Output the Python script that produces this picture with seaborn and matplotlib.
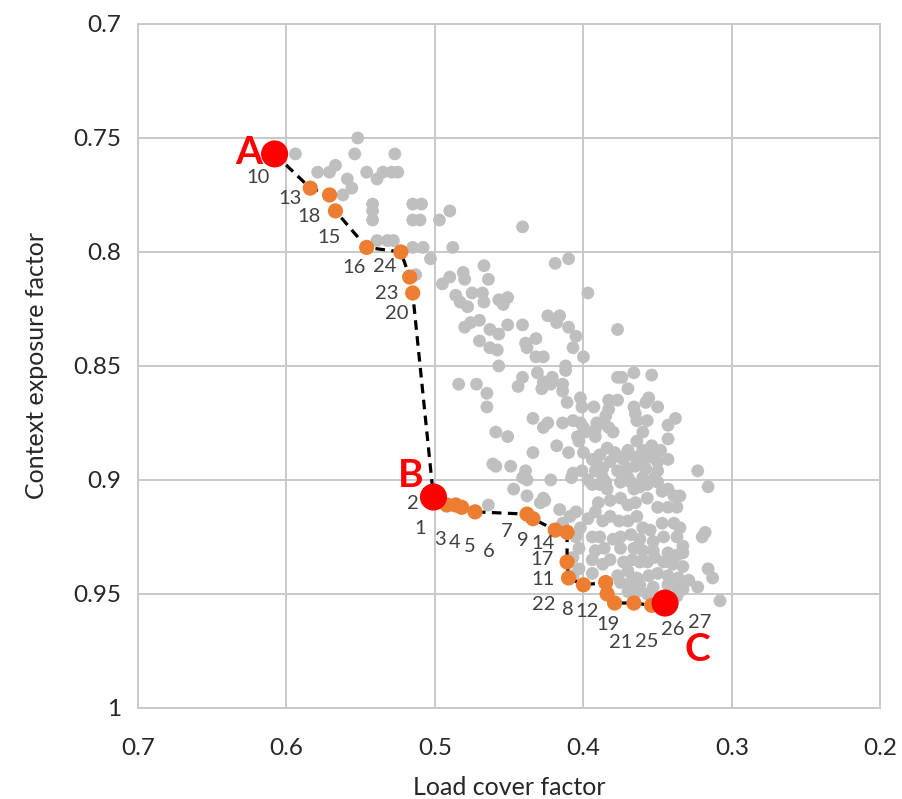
import numpy as np
import pandas as pd
import matplotlib
matplotlib.use("Agg")
import matplotlib.pyplot as plt
import seaborn as sns

# all evaluated solutions (grey cloud)
gray_x = [
    0.594, 0.552, 0.554, 0.527, 0.579, 0.571, 0.567, 0.559, 0.556, 0.562,
    0.546, 0.539, 0.535, 0.529, 0.525, 0.542, 0.542, 0.542, 0.515, 0.509,
    0.515, 0.510, 0.497, 0.490, 0.441, 0.539, 0.532, 0.528, 0.515, 0.508,
    0.488, 0.503, 0.513, 0.495, 0.490, 0.481, 0.480, 0.467, 0.464, 0.419,
    0.410, 0.397, 0.486, 0.483, 0.478, 0.475, 0.468, 0.467, 0.457, 0.454,
    0.451, 0.424, 0.416, 0.418, 0.410, 0.405, 0.377, 0.480, 0.476, 0.470,
    0.463, 0.457, 0.451, 0.441, 0.470, 0.463, 0.458, 0.439, 0.438, 0.432,
    0.407, 0.400, 0.432, 0.427, 0.457, 0.431, 0.412, 0.412, 0.484, 0.472,
    0.465, 0.465, 0.441, 0.444, 0.427, 0.421, 0.414, 0.414, 0.422, 0.428,
    0.402, 0.411, 0.401, 0.393, 0.383, 0.377, 0.377, 0.374, 0.366, 0.354,
    0.370, 0.356, 0.358, 0.350, 0.366, 0.365, 0.383, 0.385, 0.387, 0.391,
    0.392, 0.357, 0.343, 0.338, 0.434, 0.424, 0.427, 0.414, 0.407, 0.402,
    0.399, 0.404, 0.392, 0.383, 0.380, 0.360, 0.343, 0.364, 0.403, 0.418,
    0.410, 0.400, 0.434, 0.459, 0.451, 0.384, 0.389, 0.379, 0.375, 0.370,
    0.360, 0.354, 0.352, 0.348, 0.394, 0.391, 0.382, 0.373, 0.365, 0.360,
    0.354, 0.350, 0.343, 0.392, 0.387, 0.387, 0.377, 0.370, 0.365, 0.358,
    0.350, 0.352, 0.370, 0.373, 0.360, 0.401, 0.407, 0.408, 0.439, 0.422,
    0.438, 0.441, 0.397, 0.394, 0.389, 0.323, 0.316, 0.350, 0.357, 0.459,
    0.449, 0.447, 0.438, 0.427, 0.343, 0.339, 0.335, 0.366, 0.364, 0.400,
    0.384, 0.375, 0.429, 0.426, 0.416, 0.409, 0.405, 0.397, 0.414, 0.402,
    0.405, 0.403, 0.407, 0.403, 0.407, 0.385, 0.368, 0.362, 0.347, 0.390,
    0.382, 0.375, 0.370, 0.365, 0.357, 0.350, 0.343, 0.337, 0.392, 0.387,
    0.382, 0.376, 0.370, 0.364, 0.360, 0.355, 0.347, 0.339, 0.335, 0.318,
    0.320, 0.394, 0.389, 0.380, 0.375, 0.368, 0.362, 0.353, 0.346, 0.337,
    0.333, 0.392, 0.386, 0.375, 0.366, 0.360, 0.353, 0.343, 0.337, 0.333,
    0.394, 0.387, 0.382, 0.373, 0.367, 0.362, 0.357, 0.352, 0.346, 0.340,
    0.333, 0.316, 0.313, 0.394, 0.377, 0.370, 0.364, 0.356, 0.350, 0.343,
    0.336, 0.329, 0.323, 0.375, 0.368, 0.362, 0.353, 0.343, 0.337, 0.333,
    0.370, 0.364, 0.357, 0.337, 0.308, 0.461, 0.464,
]
gray_y = [
    0.757, 0.750, 0.757, 0.757, 0.765, 0.765, 0.762, 0.768, 0.772, 0.775,
    0.765, 0.768, 0.765, 0.765, 0.765, 0.779, 0.782, 0.786, 0.779, 0.779,
    0.786, 0.786, 0.786, 0.782, 0.789, 0.795, 0.795, 0.795, 0.798, 0.798,
    0.798, 0.803, 0.810, 0.814, 0.811, 0.809, 0.812, 0.806, 0.812, 0.805,
    0.803, 0.818, 0.819, 0.822, 0.824, 0.818, 0.818, 0.822, 0.821, 0.823,
    0.820, 0.828, 0.828, 0.831, 0.833, 0.837, 0.834, 0.833, 0.831, 0.830,
    0.834, 0.836, 0.832, 0.832, 0.839, 0.842, 0.843, 0.840, 0.842, 0.838,
    0.842, 0.846, 0.846, 0.846, 0.850, 0.853, 0.850, 0.852, 0.858, 0.858,
    0.862, 0.868, 0.855, 0.859, 0.857, 0.855, 0.858, 0.861, 0.858, 0.860,
    0.864, 0.866, 0.868, 0.868, 0.865, 0.865, 0.855, 0.855, 0.853, 0.854,
    0.860, 0.864, 0.866, 0.868, 0.868, 0.871, 0.869, 0.872, 0.875, 0.875,
    0.878, 0.874, 0.876, 0.873, 0.873, 0.875, 0.877, 0.875, 0.874, 0.875,
    0.879, 0.881, 0.881, 0.877, 0.879, 0.879, 0.882, 0.883, 0.883, 0.885,
    0.888, 0.888, 0.888, 0.879, 0.881, 0.886, 0.889, 0.888, 0.890, 0.887,
    0.887, 0.885, 0.888, 0.887, 0.891, 0.893, 0.892, 0.891, 0.890, 0.891,
    0.890, 0.892, 0.891, 0.896, 0.895, 0.899, 0.896, 0.895, 0.894, 0.895,
    0.896, 0.899, 0.899, 0.900, 0.899, 0.896, 0.897, 0.899, 0.896, 0.900,
    0.900, 0.899, 0.900, 0.902, 0.902, 0.896, 0.903, 0.901, 0.902, 0.894,
    0.894, 0.904, 0.907, 0.908, 0.904, 0.907, 0.907, 0.904, 0.874, 0.877,
    0.904, 0.901, 0.910, 0.909, 0.913, 0.916, 0.914, 0.917, 0.919, 0.921,
    0.925, 0.930, 0.934, 0.939, 0.942, 0.901, 0.901, 0.903, 0.905, 0.910,
    0.909, 0.908, 0.911, 0.910, 0.908, 0.912, 0.912, 0.912, 0.914, 0.918,
    0.916, 0.918, 0.918, 0.916, 0.921, 0.922, 0.919, 0.919, 0.921, 0.923,
    0.925, 0.925, 0.925, 0.926, 0.925, 0.924, 0.926, 0.927, 0.925, 0.925,
    0.929, 0.931, 0.930, 0.930, 0.930, 0.931, 0.931, 0.932, 0.933, 0.932,
    0.935, 0.937, 0.935, 0.936, 0.935, 0.936, 0.936, 0.934, 0.936, 0.937,
    0.938, 0.939, 0.943, 0.941, 0.942, 0.940, 0.943, 0.942, 0.941, 0.942,
    0.943, 0.944, 0.947, 0.945, 0.945, 0.946, 0.947, 0.946, 0.947, 0.948,
    0.949, 0.949, 0.950, 0.951, 0.953, 0.893, 0.911,
]

# pareto front, in path order (A -> B -> C)
front_id = ["10", "13", "18", "15", "16", "24", "23", "20",
            "2", "1", "3", "4", "5", "6", "7", "9", "14", "",
            "17", "11", "22", "8", "12", "19", "21", "25", "26", "27"]
front_x = [0.608, 0.584, 0.571, 0.567, 0.546, 0.523, 0.517, 0.515,
           0.501, 0.498, 0.492, 0.486, 0.482, 0.473, 0.438, 0.434, 0.419, 0.411,
           0.411, 0.410, 0.400, 0.385, 0.384, 0.379, 0.366, 0.354, 0.345, 0.343]
front_y = [0.757, 0.772, 0.775, 0.782, 0.798, 0.800, 0.811, 0.818,
           0.9075, 0.909, 0.911, 0.911, 0.912, 0.914, 0.915, 0.917, 0.922, 0.923,
           0.936, 0.943, 0.946, 0.945, 0.950, 0.954, 0.954, 0.955, 0.954, 0.955]

# extreme solutions
ext_name = ["A", "B", "C"]
ext_x = [0.608, 0.501, 0.345]
ext_y = [0.757, 0.9075, 0.954]

x_ticks = [0.7, 0.6, 0.5, 0.4, 0.3, 0.2]
y_ticks = [0.7, 0.75, 0.8, 0.85, 0.9, 0.95, 1.0]
y_tick_labels = ["0.7", "0.75", "0.8", "0.85", "0.9", "0.95", "1"]

# label offsets in pixels (dx right, dy down), as hand-placed in the original
label_off = {
    "10": (-17, 24), "13": (-20, 10), "18": (-20, 22), "15": (-6, 27),
    "16": (-13, 20), "24": (-16, 15), "23": (-23, 16), "20": (-16, 21),
    "2": (-21, 6), "1": (-18, 28), "3": (-7, 34), "4": (-1, 37),
    "5": (8, 39), "6": (14, 40), "7": (-20, 17), "9": (-10, 22),
    "14": (-12, 13), "17": (-25, -3), "11": (-26, 2), "22": (-40, 20),
    "8": (-38, 27), "12": (-20, 18), "19": (-7, 21), "21": (-13, 39),
    "25": (-5, 36), "26": (8, 26), "27": (32, 17),
}
letter_off = {"A": (-26, -1), "B": (-23, -22), "C": (32, 46)}

gray = pd.DataFrame({"x": gray_x, "y": gray_y})
front = pd.DataFrame({"id": front_id, "x": front_x, "y": front_y})
ext = pd.DataFrame({"name": ext_name, "x": ext_x, "y": ext_y})

sns.set_style("white")
plt.rcParams["font.family"] = ["Lato", "DejaVu Sans"]

fig = plt.figure(figsize=(9.02, 7.99), dpi=100)
ax = fig.add_axes([0.153, 0.114, 0.823, 0.856])

sns.scatterplot(data=gray, x="x", y="y", ax=ax, color="#bfbfbf", s=85,
                edgecolor="none", zorder=2)
sns.lineplot(data=front, x="x", y="y", ax=ax, sort=False, estimator=None,
             color="black", lw=2.3, linestyle=(0, (3.0, 2.0)), zorder=3)
sns.scatterplot(data=front, x="x", y="y", ax=ax, color="#ed7d31", s=120,
                edgecolor="none", zorder=4)
sns.scatterplot(data=ext, x="x", y="y", ax=ax, color="#ff0000", s=380,
                edgecolor="none", zorder=5)

for lab, x, y in zip(front_id, front_x, front_y):
    if lab == "":
        continue
    dx, dy = label_off[lab]
    ax.annotate(lab, (x, y), xytext=(dx, -dy), textcoords="offset pixels",
                ha="center", va="center", fontsize=14.5, color="#404040",
                zorder=6)

for name, x, y in zip(ext_name, ext_x, ext_y):
    dx, dy = letter_off[name]
    ax.annotate(name, (x, y), xytext=(dx, -dy), textcoords="offset pixels",
                ha="center", va="center", fontsize=28, fontweight="bold",
                color="#ff0000", zorder=6)

ax.set_xlim(0.7, 0.2)
ax.set_ylim(1.0, 0.7)
ax.set_xticks(x_ticks)
ax.set_xticklabels([f"{t:g}" for t in x_ticks])
ax.set_yticks(y_ticks)
ax.set_yticklabels(y_tick_labels)
ax.tick_params(axis="x", length=0, pad=22, labelsize=17.5)
ax.tick_params(axis="y", length=0, pad=12, labelsize=17.5)

ax.grid(True, color="#c8c8c8", lw=1.4)
ax.set_axisbelow(True)
for sp in ax.spines.values():
    sp.set_color("#c8c8c8")
    sp.set_linewidth(1.4)

ax.set_xlabel("Load cover factor", fontsize=18, labelpad=12)
ax.set_ylabel("Context exposure factor", fontsize=18, labelpad=18)

fig.savefig("out.png", dpi=100)
